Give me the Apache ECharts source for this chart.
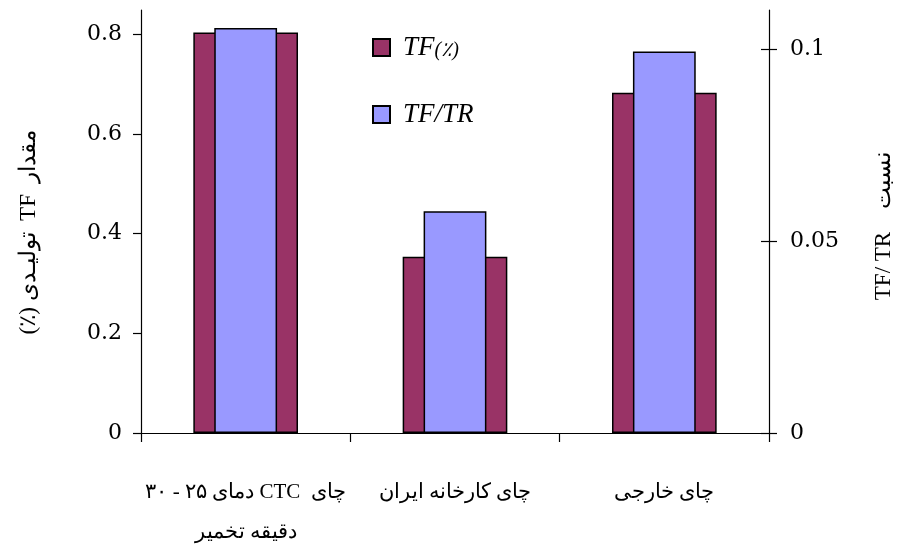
<!DOCTYPE html>
<html><head><meta charset="utf-8">
<script src="https://cdn.jsdelivr.net/npm/echarts@6/dist/echarts.min.js"></script>
<style>html,body{margin:0;padding:0;background:#fff}#c{width:902px;height:548px}</style>
</head><body><div id="c"></div>
<script>
const categories = ['چای  CTC دمای ۲۵ - ۳۰\nدقیقه تخمیر', 'چای کارخانه ایران', 'چای خارجی'];
const seriesNames = ['TF(٪)', 'TF/TR'];
const tfPercent = [0.804, 0.354, 0.683];
const tfTr = [0.1055, 0.0578, 0.0994];
const leftTicks = [0, 0.2, 0.4, 0.6, 0.8];
const rightTicks = [0, 0.05, 0.1];
const leftMax = 0.849;
const rightMax = 0.1102;
const leftName = 'مقدار  TF  تولیـدی (٪)';
const rightName = 'نسبت    TF/ TR';

const RLE = '\u202B', PDF = '\u202C';
const rtl = s => s.split('\n').map(t => RLE + t + PDF).join('\n');
const serif = "'Liberation Serif', 'DejaVu Serif', serif";
const numFont = "'DejaVu Serif', serif";

const chart = echarts.init(document.getElementById('c'), null, {renderer: 'canvas'});
chart.setOption({
  animation: false,
  backgroundColor: '#fff',
  grid: {left: 141, right: 133, top: 10, bottom: 115, containLabel: false, outerBoundsMode: 'none'},
  legend: {
    orient: 'vertical', left: 367, top: 29, itemWidth: 17, itemHeight: 17, itemGap: 40,
    icon: 'rect',
    data: seriesNames,
    formatter: n => n === seriesNames[0] ? '{a|TF}{b|(٪)}' : '{a|TF/TR}',
    textStyle: {
      color: '#000',
      rich: {
        a: {fontFamily: serif, fontStyle: 'italic', fontSize: 27, color: '#000', padding: [0, 0, 0, 8]},
        b: {fontFamily: serif, fontStyle: 'italic', fontSize: 20, color: '#000', padding: [6, 0, 0, 0]}
      }
    }
  },
  xAxis: [{
    type: 'category', data: categories, gridIndex: 0,
    axisLine: {lineStyle: {color: '#000', width: 1.2}},
    axisTick: {show: true, length: 9, lineStyle: {color: '#000', width: 1.2}},
    axisLabel: {
      interval: 0, hideOverlap: false,
      color: '#000', fontSize: 21, fontFamily: serif, margin: 39, lineHeight: 40,
      formatter: v => rtl(v)
    }
  }, {
    type: 'category', data: categories, gridIndex: 0, show: false
  }],
  yAxis: [{
    type: 'value', position: 'left', min: 0, max: leftMax, interval: 0.2,
    axisLine: {show: true, lineStyle: {color: '#000', width: 1.2}},
    axisTick: {show: true, length: 8, customValues: leftTicks, lineStyle: {color: '#000', width: 1.2}},
    axisLabel: {customValues: leftTicks, color: '#000', fontSize: 22, fontFamily: numFont, margin: 19,
      formatter: v => String(+v.toFixed(2))},
    splitLine: {show: false}
  }, {
    type: 'value', position: 'right', min: 0, max: rightMax, interval: 0.05,
    axisLine: {show: true, lineStyle: {color: '#000', width: 1.2}},
    axisTick: {show: true, length: 8, customValues: rightTicks, lineStyle: {color: '#000', width: 1.2}},
    axisLabel: {customValues: rightTicks, color: '#000', fontSize: 22, fontFamily: numFont, margin: 21,
      formatter: v => String(+v.toFixed(3))},
    splitLine: {show: false}
  }, {
    type: 'value', position: 'right', min: 0, max: rightMax, interval: 0.05,
    axisLine: {show: true, lineStyle: {color: 'rgba(0,0,0,0)', width: 1}},
    axisTick: {show: true, inside: true, length: 8, customValues: rightTicks, lineStyle: {color: '#000', width: 1.2}},
    axisLabel: {show: false},
    splitLine: {show: false}
  }],
  series: [{
    name: seriesNames[0], type: 'bar', xAxisIndex: 0, yAxisIndex: 0, barWidth: '50%',
    data: tfPercent,
    itemStyle: {color: '#993366', borderColor: '#000', borderWidth: 1.5},
    z: 2
  }, {
    name: seriesNames[1], type: 'bar', xAxisIndex: 1, yAxisIndex: 1, barWidth: '30%',
    data: tfTr,
    itemStyle: {color: '#9999FF', borderColor: '#000', borderWidth: 1.5},
    z: 3
  }],
  graphic: [{
    type: 'text', x: 29, y: 232, rotation: Math.PI / 2,
    style: {text: rtl(leftName), fill: '#000', fontSize: 23, fontFamily: serif, align: 'center', verticalAlign: 'middle'}
  }, {
    type: 'text', x: 884, y: 226, rotation: Math.PI / 2,
    style: {text: rtl(rightName), fill: '#000', fontSize: 23, fontFamily: serif, align: 'center', verticalAlign: 'middle'}
  }]
});
</script></body></html>
